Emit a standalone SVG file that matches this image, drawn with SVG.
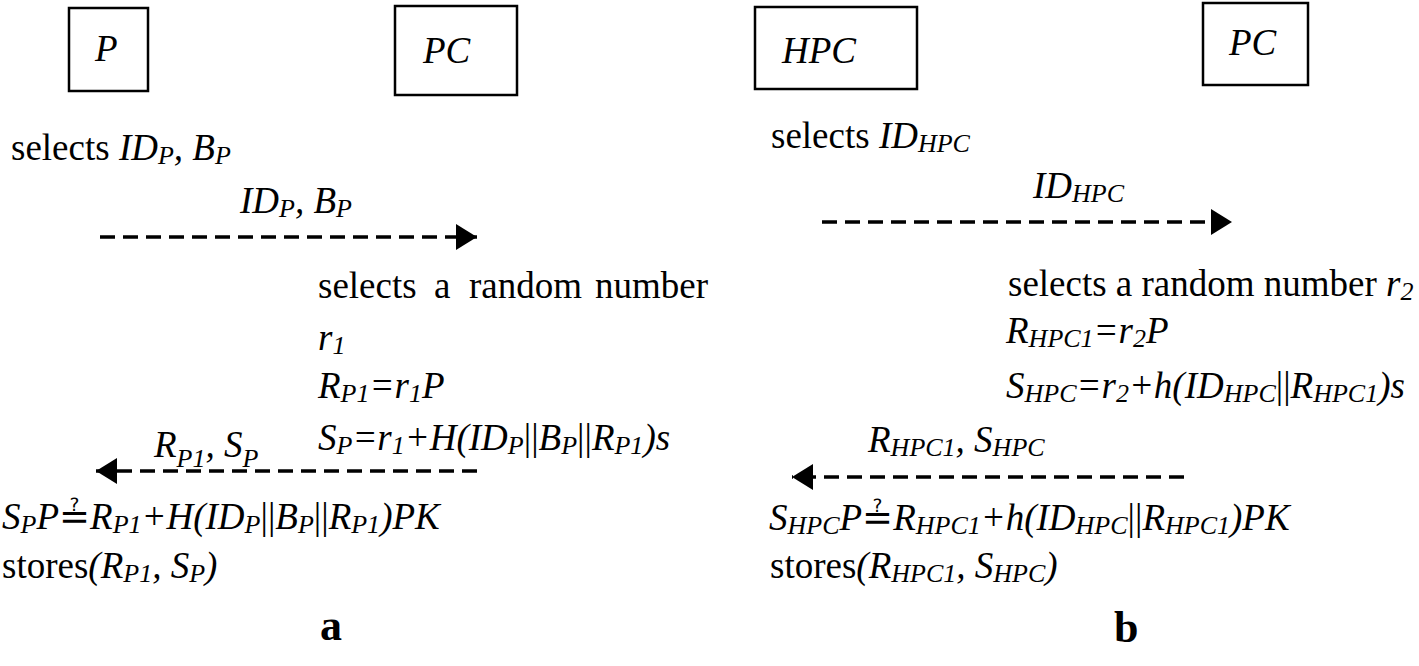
<svg xmlns="http://www.w3.org/2000/svg" width="1419" height="666" viewBox="0 0 1419 666">
<style>
text { font-family: "Liberation Serif", "Times New Roman", serif; font-size: 37px; fill: #000; }
.i { font-style: italic; }
.n { font-style: normal; }
.s { font-size: 26px; }
.qe { font-family: "Liberation Serif", "DejaVu Serif", "DejaVu Sans", serif; font-style: normal; }
.nd { font-style: italic; font-size: 37px; }
.box { fill: #fff; stroke: #000; stroke-width: 2.5; }
.dash { stroke: #000; stroke-width: 3.5; stroke-dasharray: 15 8; fill: none; }
.lbl { font-weight: bold; font-size: 44px; }
</style>
<defs>
<marker id="ah" markerUnits="userSpaceOnUse" markerWidth="22" markerHeight="26" refX="21" refY="13" orient="auto">
<path d="M0,0 L21,13 L0,26 Z" fill="#000"/>
</marker>
</defs>

<g id="node-P"><rect class="box" x="69" y="8" width="79" height="83"/><text class="nd" x="95" y="61">P</text></g>
<g id="node-PC-a"><rect class="box" x="395" y="6" width="122" height="89"/><text class="nd" x="423" y="63">PC</text></g>
<g id="node-HPC"><rect class="box" x="755" y="7" width="162" height="82"/><text class="nd" x="782" y="63">HPC</text></g>
<g id="node-PC-b"><rect class="box" x="1203" y="3" width="105" height="82"/><text class="nd" x="1229" y="55">PC</text></g>

<g id="connectors">
<line class="dash" x1="100" y1="237" x2="477" y2="237" marker-end="url(#ah)"/>
<line class="dash" x1="477" y1="471" x2="96" y2="471" marker-end="url(#ah)"/>
<line class="dash" x1="822" y1="222" x2="1232" y2="222" marker-end="url(#ah)"/>
<line class="dash" x1="1184" y1="477" x2="792" y2="477" marker-end="url(#ah)"/>
</g>

<g id="panel-a-text">
<text x="11" y="160">selects <tspan class="i">ID<tspan class="s" dy="4">P</tspan><tspan dy="-4">, B</tspan><tspan class="s" dy="4">P</tspan></tspan></text>
<text class="i" x="240" y="213">ID<tspan class="s" dy="4">P</tspan><tspan dy="-4">, B</tspan><tspan class="s" dy="4">P</tspan></text>
<text y="298"><tspan x="318">selects</tspan><tspan x="434">a</tspan><tspan x="469">random</tspan><tspan x="595">number</tspan></text>
<text class="i" x="318" y="350">r<tspan class="s" dy="4">1</tspan></text>
<text class="i" x="318" y="398">R<tspan class="s" dy="4">P1</tspan><tspan dy="-4">=r</tspan><tspan class="s" dy="4">1</tspan><tspan dy="-4">P</tspan></text>
<text class="i" x="318" y="450">S<tspan class="s" dy="4">P</tspan><tspan dy="-4">=r</tspan><tspan class="s" dy="4">1</tspan><tspan dy="-4">+H(ID</tspan><tspan class="s" dy="4">P</tspan><tspan class="n" dy="-4">||</tspan><tspan>B</tspan><tspan class="s" dy="4">P</tspan><tspan class="n" dy="-4">||</tspan><tspan>R</tspan><tspan class="s" dy="4">P1</tspan><tspan dy="-4">)s</tspan></text>
<text class="i" x="154" y="457">R<tspan class="s" dy="10">P1</tspan><tspan dy="-10">, S</tspan><tspan class="s" dy="10">P</tspan></text>
<text class="i" x="2" y="529">S<tspan class="s" dy="4">P</tspan><tspan dy="-4">P</tspan><tspan class="qe">≟</tspan><tspan>R</tspan><tspan class="s" dy="4">P1</tspan><tspan dy="-4">+H(ID</tspan><tspan class="s" dy="4">P</tspan><tspan class="n" dy="-4">||</tspan><tspan>B</tspan><tspan class="s" dy="4">P</tspan><tspan class="n" dy="-4">||</tspan><tspan>R</tspan><tspan class="s" dy="4">P1</tspan><tspan dy="-4">)PK</tspan></text>
<text x="2" y="578">stores<tspan class="i">(R<tspan class="s" dy="4">P1</tspan><tspan dy="-4">, S</tspan><tspan class="s" dy="4">P</tspan><tspan dy="-4">)</tspan></tspan></text>
<text class="lbl" x="320" y="640">a</text>
</g>

<g id="panel-b-text">
<text x="771" y="148">selects <tspan class="i">ID<tspan class="s" dy="4">HPC</tspan></tspan></text>
<text class="i" x="1033" y="198">ID<tspan class="s" dy="4">HPC</tspan></text>
<text x="1008" y="296">selects a random number <tspan class="i">r<tspan class="s" dy="4">2</tspan></tspan></text>
<text class="i" x="1006" y="343">R<tspan class="s" dy="4">HPC1</tspan><tspan dy="-4">=r</tspan><tspan class="s" dy="4">2</tspan><tspan dy="-4">P</tspan></text>
<text class="i" x="1006" y="398">S<tspan class="s" dy="4">HPC</tspan><tspan dy="-4">=r</tspan><tspan class="s" dy="4">2</tspan><tspan dy="-4">+h(ID</tspan><tspan class="s" dy="4">HPC</tspan><tspan class="n" dy="-4">||</tspan><tspan>R</tspan><tspan class="s" dy="4">HPC1</tspan><tspan dy="-4">)s</tspan></text>
<text class="i" x="868" y="452">R<tspan class="s" dy="4">HPC1</tspan><tspan dy="-4">, S</tspan><tspan class="s" dy="4">HPC</tspan></text>
<text class="i" x="769" y="530">S<tspan class="s" dy="4">HPC</tspan><tspan dy="-4">P</tspan><tspan class="qe">≟</tspan><tspan>R</tspan><tspan class="s" dy="4">HPC1</tspan><tspan dy="-4">+h(ID</tspan><tspan class="s" dy="4">HPC</tspan><tspan class="n" dy="-4">||</tspan><tspan>R</tspan><tspan class="s" dy="4">HPC1</tspan><tspan dy="-4">)PK</tspan></text>
<text x="770" y="578">stores<tspan class="i">(R<tspan class="s" dy="4">HPC1</tspan><tspan dy="-4">, S</tspan><tspan class="s" dy="4">HPC</tspan><tspan dy="-4">)</tspan></tspan></text>
<text class="lbl" x="1114" y="642">b</text>
</g>
</svg>
